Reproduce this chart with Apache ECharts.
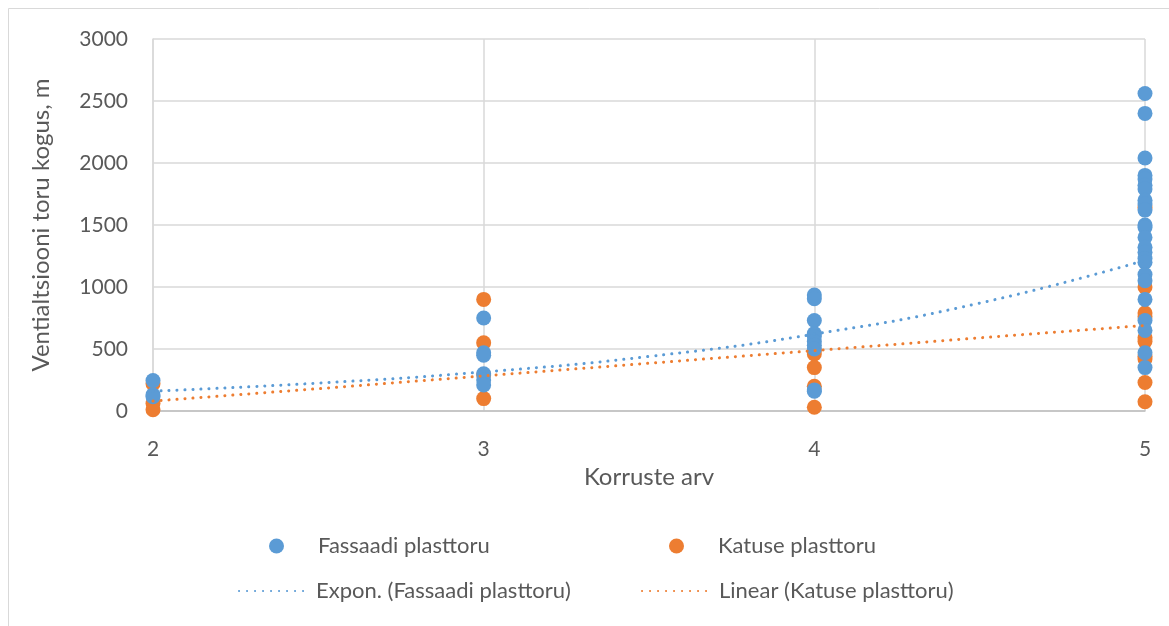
<!DOCTYPE html>
<html>
<head>
<meta charset="utf-8">
<script src="https://cdn.jsdelivr.net/npm/echarts@6/dist/echarts.min.js"></script>
<style>
  html, body { margin: 0; padding: 0; background: #fff; }
  #chart { width: 1169px; height: 626px; }
</style>
</head>
<body>
<div id="chart"></div>
<script>
// ---- data ----
const seriesNames = ['Fassaadi plasttoru', 'Katuse plasttoru'];
const trendNames = ['Expon. (Fassaadi plasttoru)', 'Linear (Katuse plasttoru)'];
const floors = [2, 3, 4, 5];

// values per floor count (Korruste arv)
const fassaadi2 = [245, 130, 115];
const fassaadi3 = [750, 470, 450, 300, 250, 210];
const fassaadi4 = [935, 905, 730, 625, 600, 560, 530, 500, 170, 160];
const fassaadi5 = [2560, 2400, 2040, 1900, 1870, 1820, 1790, 1700, 1670, 1620, 1500, 1480, 1400, 1320, 1280, 1230, 1200, 1100, 1050, 900, 730, 650, 470, 350];

const katuse2 = [220, 60, 10];
const katuse3 = [900, 550, 290, 100];
const katuse4 = [490, 460, 350, 200, 30];
const katuse5 = [1640, 1000, 790, 760, 590, 560, 440, 420, 230, 75];

// trend lines
const trendX = [2, 2.5, 3, 3.5, 4, 4.5, 5];
const exponTrend = [160, 225, 315, 440, 620, 870, 1215];
const linearTrend = [80, 180, 283, 385, 487, 590, 690];

const yTicks = [0, 500, 1000, 1500, 2000, 2500, 3000];

// ---- build ----
function pairs(x, arr) { return arr.map(v => [x, v]); }
const fassaadiData = [].concat(pairs(floors[0], fassaadi2), pairs(floors[1], fassaadi3), pairs(floors[2], fassaadi4), pairs(floors[3], fassaadi5));
const katuseData = [].concat(pairs(floors[0], katuse2), pairs(floors[1], katuse3), pairs(floors[2], katuse4), pairs(floors[3], katuse5));
const exponData = trendX.map((x, i) => [x, exponTrend[i]]);
const linearData = trendX.map((x, i) => [x, linearTrend[i]]);

const BLUE = '#5B9BD5', ORANGE = '#ED7D31';
const FONT = 'Lato';
const TXT = '#595959';
const dotLine = [0.1, 7.9];

const chart = echarts.init(document.getElementById('chart'), null, { renderer: 'canvas' });
const legendText = { fontFamily: FONT, fontSize: 22, color: TXT };
const noSym = { color: 'rgba(0,0,0,0)', borderWidth: 0, opacity: 0 };
chart.setOption({
  animation: false,
  backgroundColor: '#fff',
  textStyle: { fontFamily: FONT },
  graphic: [{
    type: 'rect', silent: true, z: -10,
    shape: { x: 8.5, y: 8.5, width: 1200, height: 700 },
    style: { fill: 'none', stroke: '#d9d9d9', lineWidth: 1 }
  }],
  grid: { left: 153, right: 24, top: 39, bottom: 215 },
  xAxis: {
    type: 'value', min: floors[0], max: floors[floors.length - 1], interval: 1,
    name: 'Korruste arv', nameLocation: 'middle', nameGap: 41,
    nameTextStyle: { fontFamily: FONT, fontSize: 24, color: TXT },
    axisLine: { show: true, onZero: false, lineStyle: { color: '#bfbfbf', width: 1.5 } },
    axisTick: { show: false },
    axisLabel: { fontFamily: FONT, fontSize: 21, color: TXT, margin: 28 },
    splitLine: { show: true, lineStyle: { color: '#d9d9d9', width: 1.5 } }
  },
  yAxis: {
    type: 'value', min: yTicks[0], max: yTicks[yTicks.length - 1], interval: 500,
    name: 'Ventialtsiooni toru kogus, m', nameLocation: 'middle', nameRotate: 90, nameGap: 100,
    nameTextStyle: { fontFamily: FONT, fontSize: 24, color: TXT },
    axisLine: { show: true, lineStyle: { color: '#d9d9d9', width: 1.5 } },
    axisTick: { show: false },
    axisLabel: { fontFamily: FONT, fontSize: 21, color: TXT, margin: 25, formatter: v => String(v) },
    splitLine: { show: true, lineStyle: { color: '#d9d9d9', width: 1.5 } }
  },
  legend: [
    { data: [{ name: seriesNames[0], icon: 'circle' }], left: 269, top: 535, padding: 0, itemWidth: 15, itemHeight: 15,
      textStyle: Object.assign({ padding: [0, 0, 0, 29] }, legendText) },
    { data: [{ name: seriesNames[1], icon: 'circle' }], left: 669, top: 535, padding: 0, itemWidth: 15, itemHeight: 15,
      textStyle: Object.assign({ padding: [0, 0, 0, 29] }, legendText) },
    { data: [{ name: trendNames[0], itemStyle: noSym }], left: 238, top: 580, padding: 0, itemWidth: 72, itemHeight: 14,
      textStyle: Object.assign({ padding: [0, 0, 0, 0] }, legendText) },
    { data: [{ name: trendNames[1], itemStyle: noSym }], left: 641, top: 580, padding: 0, itemWidth: 72, itemHeight: 14,
      textStyle: Object.assign({ padding: [0, 0, 0, 0] }, legendText) }
  ],
  series: [
    { name: seriesNames[1], type: 'scatter', data: katuseData, symbolSize: 15, z: 2,
      itemStyle: { color: ORANGE, opacity: 1 } },
    { name: seriesNames[0], type: 'scatter', data: fassaadiData, symbolSize: 15, z: 3,
      itemStyle: { color: BLUE, opacity: 1 } },
    { name: trendNames[0], type: 'line', data: exponData, smooth: true, symbol: 'none', showSymbol: false, z: 5,
      itemStyle: { color: BLUE },
      lineStyle: { color: BLUE, width: 3, type: dotLine, cap: 'round' } },
    { name: trendNames[1], type: 'line', data: linearData, symbol: 'none', showSymbol: false, z: 5,
      itemStyle: { color: ORANGE },
      lineStyle: { color: ORANGE, width: 3, type: dotLine, cap: 'round' } }
  ]
});
</script>
</body>
</html>
